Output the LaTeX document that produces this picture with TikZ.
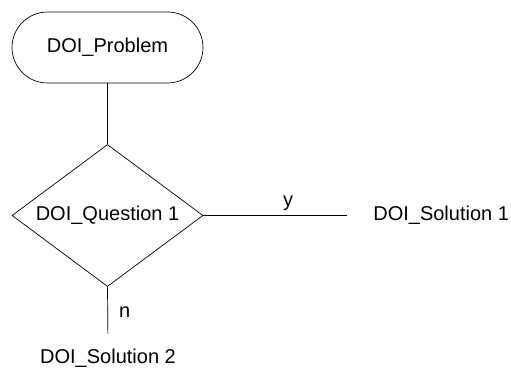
\documentclass[tikz,border=0pt]{standalone}
\usepackage{fontspec}
\setmainfont{Liberation Sans}
\usetikzlibrary{shapes.geometric}
\tikzset{
  doitext/.style={font=\fontsize{20}{24}\selectfont, inner sep=0pt},
  startbox/.style={doitext, draw, rounded corners=35.5pt, minimum width=191pt, minimum height=71pt},
  askbox/.style={doitext, draw, diamond, aspect=1.35, minimum width=191pt, minimum height=142pt}
}
\begin{document}
\begin{tikzpicture}[x=1pt,y=-1pt,line width=0.7pt]
        \useasboundingbox (0,0) rectangle (511,369);
        \node[startbox] (prob) at (107.5,47.5) {DOI\_Problem};
        \node[askbox] (ques) at (107.5,215.5) {DOI\_Question 1};
        \node[doitext,anchor=west] (sol1) at (373,215.5) {DOI\_Solution 1};
        \node[doitext] (sol2) at (108,358.5) {DOI\_Solution 2};
        \draw (prob.south) -- (ques.north);
        \draw[shorten >=26pt] (ques.east) -- (sol1.west) node[midway,above=5pt,doitext]{y};
        \draw[shorten >=15pt] (ques.south) -- (sol2.north) node[pos=0.4,right=11pt,doitext]{n};
    \end{tikzpicture}
\end{document}
